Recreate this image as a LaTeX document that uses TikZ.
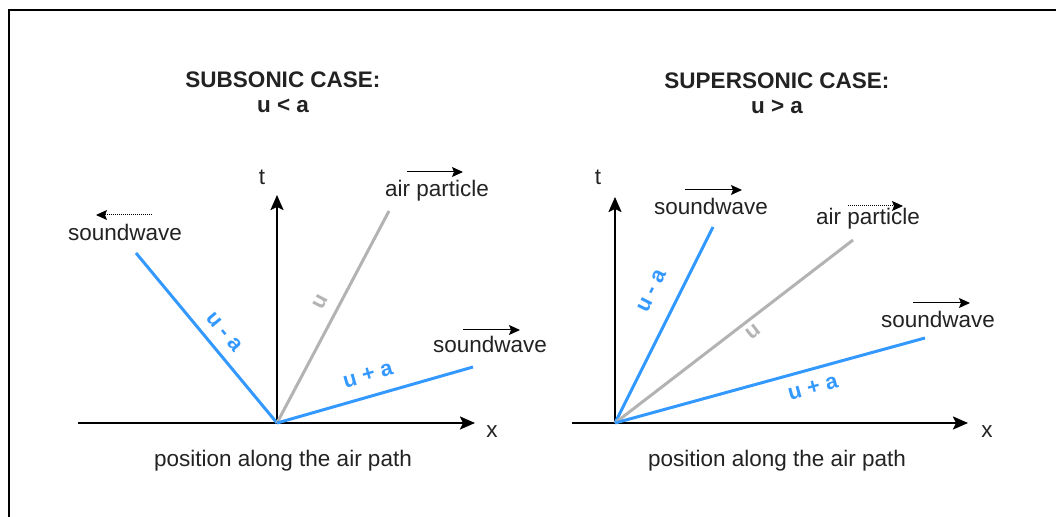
\documentclass[tikz,border=0pt]{standalone}
\usepackage{fontspec}
\setmainfont{Liberation Sans}
\usetikzlibrary{arrows.meta}
\definecolor{wavecol}{HTML}{3399FF}
\definecolor{partcol}{HTML}{B3B3B3}
\definecolor{txtcol}{HTML}{222222}
\begin{document}
\begin{tikzpicture}[x=0.5pt,y=-0.5pt,
  font=\fontsize{11.25}{13.5}\selectfont,
  frame/.style={line width=0.7pt, draw=black},
  axis/.style={line width=1.1pt, draw=black, -{Stealth[length=7.5pt,width=6.5pt,inset=1.5pt]}},
  wave/.style={line width=1.5pt, draw=wavecol},
  partic/.style={line width=1.5pt, draw=partcol},
  small/.style={line width=0.5pt, draw=black, -{Stealth[length=5.5pt,width=5pt,inset=1pt]}},
  fine/.style={dash pattern=on 0.5pt off 0.5pt},
  lbl/.style={anchor=base, text=txtcol, inner sep=0pt},
  ttl/.style={anchor=base, text=txtcol, inner sep=0pt, font=\fontsize{11.25}{13.5}\selectfont\bfseries},
  wlab/.style={text=wavecol, inner sep=0pt, font=\fontsize{11}{13}\selectfont\bfseries},
  plab/.style={text=partcol, inner sep=0pt, font=\fontsize{11}{13}\selectfont\bfseries}]
\useasboundingbox (0,0) rectangle (1056,517);
\draw[frame] (9,517) -- (9,10) -- (1056,10);

% ---------- left panel ----------
\node[ttl] (t1a) at (283,88) {SUBSONIC CASE:};
\node[ttl] (t1b) at (283,113) {u < a};
\coordinate (O1) at (277,423);
\coordinate (xs1) at (78,423);
\coordinate (xe1) at (475,423);
\coordinate (te1) at (277,195);
\coordinate (ma1) at (136,253);
\coordinate (mu1) at (389,211);
\coordinate (pa1) at (473,367);
\draw[axis] (xs1) -- (xe1);
\draw[axis] (O1) -- (te1);
\draw[wave] (O1) -- (ma1);
\draw[partic] (O1) -- (mu1);
\draw[wave] (O1) -- (pa1);
\node[lbl] (tl1) at (262,185) {t};
\node[lbl] (xl1) at (492,438) {x};
\node[lbl] (pos1) at (283,467) {position along the air path};
\node[wlab, rotate=-50.3] (lma1) at (224,332) {u - a};
\node[plab, rotate=62.3] (lmu1) at (321,302) {u};
\node[wlab, rotate=16] (lpa1) at (368,375) {u + a};
\node[lbl] (sw1) at (125,241) {soundwave};
\node[lbl] (ap1) at (437,197) {air particle};
\node[lbl] (sw2) at (490,353) {soundwave};
\coordinate (a1s) at (152,215); \coordinate (a1e) at (96,215);
\coordinate (a2s) at (407,172); \coordinate (a2e) at (463,172);
\coordinate (a3s) at (463,330); \coordinate (a3e) at (520,330);
\draw[small, fine] (a1s) -- (a1e);
\draw[small] (a2s) -- (a2e);
\draw[small] (a3s) -- (a3e);

% ---------- right panel ----------
\node[ttl] (t2a) at (777,89) {SUPERSONIC CASE:};
\node[ttl] (t2b) at (777,114) {u > a};
\coordinate (O2) at (615,423);
\coordinate (xs2) at (572,423);
\coordinate (xe2) at (968,423);
\coordinate (te2) at (615,197);
\coordinate (ma2) at (713,227);
\coordinate (mu2) at (853,240);
\coordinate (pa2) at (925,338);
\draw[axis] (xs2) -- (xe2);
\draw[axis] (O2) -- (te2);
\draw[wave] (O2) -- (ma2);
\draw[partic] (O2) -- (mu2);
\draw[wave] (O2) -- (pa2);
\node[lbl] (tl2) at (598,185) {t};
\node[lbl] (xl2) at (987,438) {x};
\node[lbl] (pos2) at (777,467) {position along the air path};
\node[wlab, rotate=63.4] (lma2) at (652,291) {u - a};
\node[plab, rotate=37.6] (lmu2) at (753,332) {u};
\node[wlab, rotate=15.3] (lpa2) at (813,388) {u + a};
\node[lbl] (sw3) at (711,215) {soundwave};
\node[lbl] (ap2) at (868,225) {air particle};
\node[lbl] (sw4) at (938,328) {soundwave};
\coordinate (b1s) at (685,190); \coordinate (b1e) at (742,190);
\coordinate (b2s) at (848,206); \coordinate (b2e) at (903,206);
\coordinate (b3s) at (913,303); \coordinate (b3e) at (970,303);
\draw[small] (b1s) -- (b1e);
\draw[small, fine] (b2s) -- (b2e);
\draw[small] (b3s) -- (b3e);
\end{tikzpicture}
\end{document}
